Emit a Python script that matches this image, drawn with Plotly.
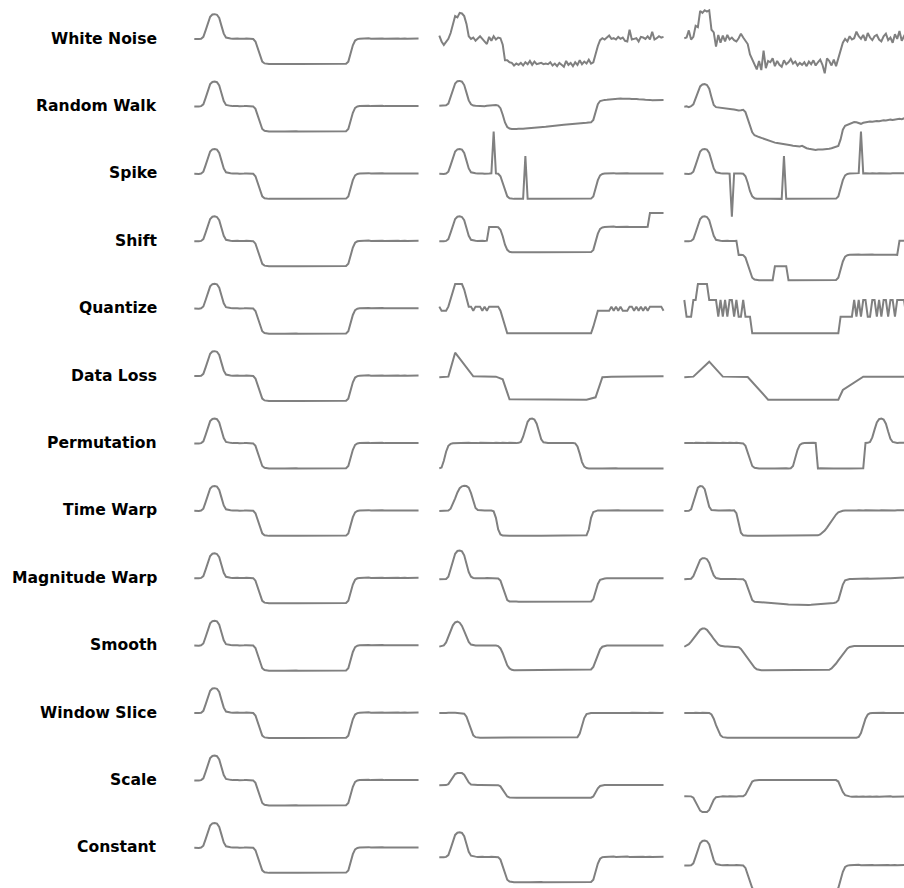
import plotly.graph_objects as go

# ---------------------------------------------------------------- data
ROW_LABELS = ["White Noise", "Random Walk", "Spike", "Shift", "Quantize", "Data Loss",
              "Permutation", "Time Warp", "Magnitude Warp", "Smooth", "Window Slice",
              "Scale", "Constant"]

# original series (z-normalised), shown in the first column of every row
BASE = [0.74, 0.72, 0.73, 0.76, 0.90, 1.40, 2.00, 2.45, 2.62, 2.65,
        2.60, 2.35, 1.75, 1.15, 0.85, 0.79, 0.78, 0.76, 0.78, 0.77,
        0.75, 0.78, 0.76, 0.77, 0.75, 0.77, 0.74, 0.55, 0.05, -0.60,
        -1.00, -1.14, -1.18, -1.19, -1.19, -1.18, -1.19, -1.19, -1.18, -1.19,
        -1.19, -1.18, -1.19, -1.19, -1.18, -1.18, -1.19, -1.19, -1.18, -1.19,
        -1.19, -1.18, -1.18, -1.19, -1.18, -1.18, -1.19, -1.18, -1.18, -1.19,
        -1.18, -1.18, -1.19, -1.19, -1.18, -1.19, -1.18, -1.17, -1.00, -0.40,
        0.25, 0.62, 0.73, 0.76, 0.78, 0.76, 0.77, 0.79, 0.76, 0.77,
        0.78, 0.76, 0.77, 0.78, 0.76, 0.77, 0.78, 0.77, 0.76, 0.78,
        0.77, 0.76, 0.78, 0.77, 0.76, 0.77, 0.78, 0.76, 0.77, 0.77]

WHITE_NOISE_A = [0.99, 0.55, 0.28, 0.55, 0.75, 1.20, 1.95, 2.50, 2.40, 2.75,
                 2.70, 2.50, 1.90, 0.95, 0.75, 0.85, 0.60, 0.80, 0.95, 0.75,
                 0.55, 0.35, 0.90, 0.60, 0.95, 0.70, 0.85, 0.80, 0.30, -0.90,
                 -0.90, -1.05, -1.10, -1.30, -1.15, -1.25, -1.10, -1.30, -1.05, -1.20,
                 -0.95, -1.25, -1.00, -1.20, -1.15, -1.10, -1.20, -1.15, -1.20, -1.05,
                 -1.30, -1.15, -1.35, -1.10, -1.25, -1.40, -0.95, -1.25, -1.10, -1.35,
                 -1.05, -1.25, -0.90, -1.20, -1.00, -1.15, -0.85, -1.15, -1.05, -0.40,
                 0.20, 0.65, 0.80, 0.70, 0.85, 1.00, 0.75, 0.80, 0.70, 0.90,
                 0.75, 0.85, 0.60, 0.55, 1.45, 0.70, 0.75, 0.80, 0.55, 0.90,
                 0.85, 0.75, 0.95, 0.70, 1.30, 0.70, 0.80, 0.95, 0.85, 0.90]
WHITE_NOISE_B = [0.80, 0.85, 1.40, 0.70, 0.90, 1.75, 1.65, 2.90, 2.75, 2.95,
                 2.85, 2.95, 1.45, 1.25, 0.15, 1.05, 0.45, 1.00, 0.55, 1.05,
                 0.70, 0.85, 0.65, 0.55, 0.80, 1.15, 0.85, 0.55, 0.35, -0.45,
                 -0.85, -1.15, -1.60, -0.95, -1.65, -0.15, -1.50, -0.95, -1.05, -0.75,
                 -1.35, -0.95, -1.25, -1.40, -0.90, -1.20, -1.05, -0.80, -1.15, -1.00,
                 -1.30, -1.10, -1.25, -1.05, -1.35, -1.00, -1.20, -0.90, -1.30, -1.05,
                 -0.85, -1.25, -1.90, -0.75, -0.95, -1.30, -0.85, -1.35, -0.75, -0.05,
                 0.45, 0.75, 0.55, 0.95, 0.70, 0.80, 1.30, 0.95, 0.75, 1.05,
                 0.60, 1.20, 0.85, 0.65, 0.95, 1.05, 0.70, 0.55, 0.95, 1.15,
                 0.65, 0.85, 0.45, 1.10, 0.75, 1.35, 0.60, 0.95, 0.70, 1.10]

RANDOM_WALK_A = [0.79, 0.80, 0.78, 0.82, 0.95, 1.45, 2.05, 2.50, 2.68, 2.70,
                 2.64, 2.38, 1.80, 1.20, 0.90, 0.80, 0.78, 0.77, 0.74, 0.76,
                 0.75, 0.78, 0.80, 0.82, 0.84, 0.85, 0.80, 0.60, 0.10, -0.50,
                 -0.85, -0.96, -1.00, -1.02, -1.00, -0.99, -1.01, -0.98, -0.96, -0.95,
                 -0.93, -0.94, -0.90, -0.89, -0.87, -0.86, -0.84, -0.83, -0.80, -0.79,
                 -0.76, -0.74, -0.73, -0.70, -0.69, -0.67, -0.66, -0.64, -0.63, -0.60,
                 -0.59, -0.57, -0.56, -0.55, -0.53, -0.52, -0.50, -0.49, -0.30, 0.30,
                 0.90, 1.15, 1.22, 1.24, 1.25, 1.27, 1.30, 1.32, 1.36, 1.34,
                 1.35, 1.33, 1.34, 1.31, 1.33, 1.30, 1.32, 1.31, 1.28, 1.30,
                 1.27, 1.25, 1.26, 1.24, 1.22, 1.23, 1.24, 1.22, 1.23, 1.23]
RANDOM_WALK_B = [0.72, 0.74, 0.68, 0.75, 0.90, 1.35, 1.90, 2.28, 2.42, 2.45,
                 2.38, 2.10, 1.45, 0.85, 0.68, 0.65, 0.64, 0.62, 0.60, 0.58,
                 0.55, 0.52, 0.50, 0.46, 0.43, 0.44, 0.48, 0.30, -0.20, -0.80,
                 -1.25, -1.48, -1.58, -1.62, -1.68, -1.75, -1.80, -1.86, -1.92, -1.98,
                 -2.05, -2.08, -2.10, -2.14, -2.16, -2.20, -2.22, -2.25, -2.28, -2.30,
                 -2.32, -2.34, -2.30, -2.40, -2.48, -2.52, -2.56, -2.60, -2.62, -2.58,
                 -2.60, -2.57, -2.55, -2.56, -2.52, -2.48, -2.42, -2.38, -2.30, -1.80,
                 -1.05, -0.75, -0.68, -0.62, -0.55, -0.46, -0.48, -0.55, -0.60, -0.52,
                 -0.48, -0.45, -0.42, -0.44, -0.40, -0.38, -0.40, -0.36, -0.33, -0.35,
                 -0.30, -0.28, -0.31, -0.27, -0.25, -0.22, -0.24, -0.18, -0.20, -0.17]

SPIKE_A = [0.74, 0.72, 0.73, 0.76, 0.90, 1.40, 2.00, 2.45, 2.62, 2.65,
           2.60, 2.35, 1.75, 1.15, 0.85, 0.79, 0.78, 0.76, 0.78, 0.77,
           0.75, 0.78, 0.76, 0.77, 3.98, 0.77, 0.74, 0.55, 0.05, -0.60,
           -1.00, -1.14, -1.18, -1.19, -1.19, -1.18, -1.19, -1.19, 2.10, -1.19,
           -1.19, -1.18, -1.19, -1.19, -1.18, -1.18, -1.19, -1.19, -1.18, -1.19,
           -1.19, -1.18, -1.18, -1.19, -1.18, -1.18, -1.19, -1.18, -1.18, -1.19,
           -1.18, -1.18, -1.19, -1.19, -1.18, -1.19, -1.18, -1.17, -1.00, -0.40,
           0.25, 0.62, 0.73, 0.76, 0.78, 0.76, 0.77, 0.79, 0.76, 0.77,
           0.78, 0.76, 0.77, 0.78, 0.76, 0.77, 0.78, 0.77, 0.76, 0.78,
           0.77, 0.76, 0.78, 0.77, 0.76, 0.77, 0.78, 0.76, 0.77, 0.77]
SPIKE_B = [0.74, 0.72, 0.73, 0.76, 0.90, 1.40, 2.00, 2.45, 2.62, 2.65,
           2.60, 2.35, 1.75, 1.15, 0.85, 0.79, 0.78, 0.76, 0.78, 0.77,
           0.75, -2.56, 0.76, 0.77, 0.75, 0.77, 0.74, 0.55, 0.05, -0.60,
           -1.00, -1.14, -1.18, -1.19, -1.19, -1.18, -1.19, -1.19, -1.18, -1.19,
           -1.19, -1.18, -1.19, -1.19, 2.10, -1.18, -1.19, -1.19, -1.18, -1.19,
           -1.19, -1.18, -1.18, -1.19, -1.18, -1.18, -1.19, -1.18, -1.18, -1.19,
           -1.18, -1.18, -1.19, -1.19, -1.18, -1.19, -1.18, -1.17, -1.00, -0.40,
           0.25, 0.62, 0.73, 0.76, 0.78, 0.76, 0.77, 0.79, 3.98, 0.77,
           0.78, 0.76, 0.77, 0.78, 0.76, 0.77, 0.78, 0.77, 0.76, 0.78,
           0.77, 0.76, 0.78, 0.77, 0.76, 0.77, 0.78, 0.76, 0.77, 0.77]

SHIFT_A = [0.74, 0.72, 0.73, 0.76, 0.90, 1.40, 2.00, 2.45, 2.62, 2.65,
           2.60, 2.35, 1.75, 1.15, 0.85, 0.79, 0.78, 0.76, 0.78, 0.77,
           0.75, 0.78, 1.83, 1.84, 1.82, 1.84, 1.81, 1.62, 1.12, 0.47,
           0.07, -0.07, -0.11, -0.12, -0.12, -0.11, -0.12, -0.12, -0.11, -0.12,
           -0.12, -0.11, -0.12, -0.12, -0.11, -0.11, -0.12, -0.12, -0.11, -0.12,
           -0.12, -0.11, -0.11, -0.12, -0.11, -0.11, -0.12, -0.11, -0.11, -0.12,
           -0.11, -0.11, -0.12, -0.12, -0.11, -0.12, -0.11, -0.10, 0.07, 0.67,
           1.32, 1.69, 1.80, 1.83, 1.85, 1.83, 1.84, 1.86, 1.83, 1.84,
           1.85, 1.83, 1.84, 1.85, 1.83, 1.84, 1.85, 1.84, 1.83, 1.85,
           1.84, 1.83, 1.85, 2.90, 2.89, 2.90, 2.91, 2.89, 2.90, 2.90]
SHIFT_B = [0.74, 0.72, 0.73, 0.76, 0.90, 1.40, 2.00, 2.45, 2.62, 2.65,
           2.60, 2.35, 1.75, 1.15, 0.85, 0.79, 0.78, 0.76, 0.78, 0.77,
           0.75, 0.78, 0.76, 0.77, -0.32, -0.30, -0.33, -0.52, -1.02, -1.67,
           -2.07, -2.21, -2.25, -2.26, -2.26, -2.25, -2.26, -2.26, -2.25, -2.26,
           -1.19, -1.18, -1.19, -1.19, -1.18, -1.18, -2.26, -2.26, -2.25, -2.26,
           -2.26, -2.25, -2.25, -2.26, -2.25, -2.25, -2.26, -2.25, -2.25, -2.26,
           -2.25, -2.25, -2.26, -2.26, -2.25, -2.26, -2.25, -2.24, -2.07, -1.47,
           -0.82, -0.45, -0.34, -0.31, -0.29, -0.31, -0.30, -0.28, -0.31, -0.30,
           -0.29, -0.31, -0.30, -0.29, -0.31, -0.30, -0.29, -0.30, -0.31, -0.29,
           -0.30, -0.31, -0.29, -0.30, -0.31, 0.77, 0.78, 0.76, 0.77, 0.77]

QUANTIZE_A = [0.89, 0.58, 0.58, 0.58, 0.89, 1.50, 2.20, 2.63, 2.63, 2.63,
              2.63, 2.20, 1.50, 0.89, 0.89, 0.58, 0.89, 0.89, 0.89, 0.58,
              0.89, 0.58, 0.89, 0.89, 0.89, 0.89, 0.89, 0.58, -0.05, -0.65,
              -1.16, -1.16, -1.16, -1.16, -1.16, -1.16, -1.16, -1.16, -1.16, -1.16,
              -1.16, -1.16, -1.16, -1.16, -1.16, -1.16, -1.16, -1.16, -1.16, -1.16,
              -1.16, -1.16, -1.16, -1.16, -1.16, -1.16, -1.16, -1.16, -1.16, -1.16,
              -1.16, -1.16, -1.16, -1.16, -1.16, -1.16, -1.16, -1.16, -0.65, 0.00,
              0.58, 0.58, 0.58, 0.58, 0.58, 0.58, 0.89, 0.58, 0.89, 0.58,
              0.89, 0.58, 0.58, 0.58, 0.89, 0.89, 0.58, 0.89, 0.58, 0.89,
              0.58, 0.89, 0.58, 0.89, 0.89, 0.89, 0.89, 0.89, 0.89, 0.58]
QUANTIZE_B = [1.40, 0.12, 0.12, 0.12, 1.40, 1.40, 2.63, 2.63, 2.63, 2.63,
              2.63, 1.40, 1.40, 1.40, 1.40, 0.12, 1.40, 0.12, 1.40, 0.12,
              1.40, 1.40, 0.12, 1.40, 0.12, 0.12, 1.40, 0.12, 0.12, 0.12,
              -1.16, -1.16, -1.16, -1.16, -1.16, -1.16, -1.16, -1.16, -1.16, -1.16,
              -1.16, -1.16, -1.16, -1.16, -1.16, -1.16, -1.16, -1.16, -1.16, -1.16,
              -1.16, -1.16, -1.16, -1.16, -1.16, -1.16, -1.16, -1.16, -1.16, -1.16,
              -1.16, -1.16, -1.16, -1.16, -1.16, -1.16, -1.16, -1.16, -1.16, 0.12,
              0.12, 0.12, 0.12, 0.12, 0.12, 1.40, 0.12, 1.40, 0.12, 1.40,
              1.40, 0.12, 0.12, 1.40, 1.40, 0.12, 1.40, 0.12, 1.40, 1.40,
              0.12, 1.40, 1.40, 0.12, 1.40, 1.40, 1.40, 1.40, 0.12, 1.40]

# data loss keeps only some samples; the kept samples are joined by straight segments
DATA_LOSS_A_T = [0, 4, 7, 15, 25, 28, 31, 65, 69, 72, 76, 84, 86, 99]
DATA_LOSS_A_V = [0.64, 0.69, 2.53, 0.72, 0.69, 0.48, -1.05, -1.08, -0.90, 0.64,
                 0.69, 0.74, 0.70, 0.72]
DATA_LOSS_B_T = [0, 4, 11, 17, 28, 37, 68, 70, 79, 99]
DATA_LOSS_B_V = [0.64, 0.69, 1.84, 0.69, 0.66, -1.08, -1.08, -0.34, 0.69, 0.69]

PERMUTATION_A = [-1.18, -1.12, -0.60, 0.10, 0.55, 0.70, 0.75, 0.76, 0.77, 0.76,
                 0.78, 0.77, 0.76, 0.78, 0.77, 0.75, 0.77, 0.76, 0.78, 0.77,
                 0.76, 0.78, 0.77, 0.76, 0.77, 0.78, 0.76, 0.77, 0.78, 0.76,
                 0.77, 0.78, 0.76, 0.77, 0.76, 0.78, 0.85, 1.25, 1.90, 2.40,
                 2.62, 2.65, 2.58, 2.25, 1.65, 1.05, 0.82, 0.78, 0.77, 0.76,
                 0.78, 0.77, 0.76, 0.78, 0.77, 0.76, 0.77, 0.78, 0.76, 0.77,
                 0.74, 0.50, -0.05, -0.70, -1.05, -1.16, -1.19, -1.18, -1.19, -1.19,
                 -1.18, -1.19, -1.19, -1.18, -1.19, -1.18, -1.19, -1.19, -1.18, -1.19,
                 -1.19, -1.18, -1.19, -1.19, -1.18, -1.19, -1.18, -1.19, -1.19, -1.18,
                 -1.19, -1.18, -1.19, -1.19, -1.18, -1.19, -1.19, -1.18, -1.19, -1.19]
PERMUTATION_B = [0.77, 0.76, 0.78, 0.77, 0.76, 0.78, 0.77, 0.75, 0.77, 0.76,
                 0.78, 0.77, 0.76, 0.78, 0.77, 0.76, 0.77, 0.78, 0.76, 0.77,
                 0.78, 0.76, 0.77, 0.78, 0.76, 0.77, 0.74, 0.55, 0.05, -0.60,
                 -1.00, -1.14, -1.18, -1.19, -1.19, -1.18, -1.19, -1.19, -1.18, -1.19,
                 -1.19, -1.18, -1.19, -1.19, -1.18, -1.18, -1.19, -1.17, -1.00, -0.40,
                 0.25, 0.62, 0.73, 0.76, 0.78, 0.76, 0.77, 0.79, 0.77, -1.19,
                 -1.18, -1.19, -1.19, -1.18, -1.19, -1.18, -1.19, -1.19, -1.18, -1.19,
                 -1.19, -1.18, -1.19, -1.19, -1.18, -1.19, -1.18, -1.19, -1.19, -1.18,
                 0.77, 0.78, 0.85, 1.20, 1.80, 2.35, 2.60, 2.65, 2.58, 2.25,
                 1.65, 1.10, 0.85, 0.79, 0.77, 0.78, 0.76, 0.77, 0.78, 0.77]

TIME_WARP_A = [0.72, 0.74, 0.73, 0.74, 0.76, 0.90, 1.25, 1.70, 2.15, 2.48,
               2.62, 2.66, 2.64, 2.52, 2.10, 1.45, 0.95, 0.80, 0.77, 0.78,
               0.76, 0.77, 0.78, 0.76, 0.70, 0.20, -0.70, -1.08, -1.17, -1.19,
               -1.18, -1.19, -1.19, -1.18, -1.19, -1.19, -1.18, -1.19, -1.19, -1.18,
               -1.19, -1.18, -1.19, -1.19, -1.18, -1.19, -1.19, -1.18, -1.19, -1.19,
               -1.18, -1.19, -1.19, -1.18, -1.19, -1.18, -1.19, -1.19, -1.18, -1.19,
               -1.19, -1.18, -1.19, -1.18, -1.19, -1.15, -0.70, 0.20, 0.65, 0.74,
               0.77, 0.76, 0.78, 0.77, 0.76, 0.77, 0.78, 0.76, 0.77, 0.78,
               0.76, 0.77, 0.78, 0.77, 0.76, 0.78, 0.77, 0.76, 0.77, 0.78,
               0.77, 0.76, 0.78, 0.77, 0.76, 0.77, 0.78, 0.77, 0.76, 0.77]
TIME_WARP_B = [0.72, 0.73, 0.74, 0.85, 1.40, 2.10, 2.52, 2.65, 2.62, 2.40,
               1.75, 1.05, 0.80, 0.77, 0.78, 0.76, 0.77, 0.78, 0.76, 0.77,
               0.78, 0.76, 0.77, 0.55, -0.30, -0.95, -1.15, -1.19, -1.18, -1.19,
               -1.19, -1.18, -1.19, -1.19, -1.18, -1.19, -1.19, -1.18, -1.19, -1.19,
               -1.18, -1.19, -1.19, -1.18, -1.19, -1.18, -1.19, -1.19, -1.18, -1.19,
               -1.19, -1.18, -1.19, -1.19, -1.18, -1.19, -1.18, -1.19, -1.19, -1.15,
               -1.08, -0.95, -0.78, -0.55, -0.30, -0.05, 0.22, 0.45, 0.62, 0.70,
               0.74, 0.77, 0.76, 0.78, 0.77, 0.76, 0.77, 0.78, 0.76, 0.77,
               0.78, 0.77, 0.76, 0.78, 0.77, 0.76, 0.77, 0.78, 0.77, 0.76,
               0.78, 0.77, 0.76, 0.77, 0.78, 0.77, 0.76, 0.77, 0.78, 0.77]

MAG_WARP_A = [0.65, 0.66, 0.65, 0.68, 0.85, 1.40, 2.10, 2.62, 2.83, 2.86,
              2.80, 2.50, 1.85, 1.20, 0.85, 0.76, 0.74, 0.73, 0.75, 0.74,
              0.73, 0.75, 0.74, 0.73, 0.74, 0.75, 0.72, 0.55, 0.05, -0.58,
              -0.95, -1.05, -1.07, -1.07, -1.06, -1.07, -1.07, -1.06, -1.07, -1.07,
              -1.07, -1.08, -1.07, -1.08, -1.08, -1.07, -1.08, -1.08, -1.08, -1.07,
              -1.08, -1.08, -1.07, -1.08, -1.08, -1.07, -1.07, -1.08, -1.07, -1.07,
              -1.07, -1.07, -1.08, -1.08, -1.08, -1.08, -1.07, -1.05, -0.88, -0.30,
              0.30, 0.62, 0.70, 0.72, 0.73, 0.72, 0.73, 0.74, 0.72, 0.73,
              0.74, 0.72, 0.73, 0.74, 0.73, 0.72, 0.74, 0.73, 0.72, 0.73,
              0.74, 0.73, 0.72, 0.74, 0.73, 0.72, 0.73, 0.74, 0.73, 0.73]
MAG_WARP_B = [0.65, 0.66, 0.66, 0.70, 0.90, 1.35, 1.85, 2.15, 2.27, 2.28,
              2.20, 1.92, 1.40, 0.95, 0.75, 0.69, 0.68, 0.67, 0.69, 0.68,
              0.67, 0.69, 0.68, 0.67, 0.68, 0.69, 0.66, 0.50, 0.00, -0.60,
              -0.95, -1.07, -1.08, -1.09, -1.10, -1.12, -1.13, -1.15, -1.16, -1.18,
              -1.19, -1.20, -1.22, -1.23, -1.25, -1.26, -1.28, -1.29, -1.30, -1.31,
              -1.32, -1.33, -1.33, -1.33, -1.32, -1.32, -1.31, -1.30, -1.30, -1.29,
              -1.28, -1.27, -1.26, -1.25, -1.23, -1.20, -1.17, -1.12, -0.95, -0.35,
              0.25, 0.58, 0.66, 0.68, 0.68, 0.69, 0.68, 0.69, 0.70, 0.69,
              0.70, 0.71, 0.70, 0.71, 0.72, 0.71, 0.72, 0.73, 0.72, 0.73,
              0.74, 0.73, 0.74, 0.75, 0.76, 0.77, 0.78, 0.79, 0.80, 0.81]

SMOOTH_A = [0.66, 0.68, 0.75, 0.98, 1.40, 1.90, 2.30, 2.52, 2.58, 2.50,
            2.25, 1.85, 1.40, 1.02, 0.82, 0.75, 0.74, 0.74, 0.75, 0.74,
            0.74, 0.75, 0.74, 0.74, 0.75, 0.74, 0.70, 0.52, 0.15, -0.35,
            -0.78, -1.02, -1.12, -1.15, -1.15, -1.15, -1.15, -1.15, -1.15, -1.15,
            -1.15, -1.15, -1.15, -1.15, -1.15, -1.15, -1.15, -1.15, -1.15, -1.15,
            -1.15, -1.15, -1.15, -1.15, -1.15, -1.15, -1.15, -1.15, -1.15, -1.15,
            -1.15, -1.15, -1.15, -1.15, -1.15, -1.15, -1.15, -1.10, -0.90, -0.45,
            0.08, 0.45, 0.65, 0.72, 0.74, 0.74, 0.74, 0.75, 0.74, 0.74,
            0.74, 0.75, 0.74, 0.74, 0.75, 0.74, 0.74, 0.74, 0.75, 0.74,
            0.74, 0.74, 0.75, 0.74, 0.74, 0.75, 0.74, 0.74, 0.74, 0.74]
SMOOTH_B = [0.65, 0.72, 0.85, 1.05, 1.28, 1.52, 1.75, 1.95, 2.05, 2.06,
            1.95, 1.75, 1.50, 1.25, 1.00, 0.82, 0.72, 0.68, 0.67, 0.67,
            0.67, 0.67, 0.67, 0.67, 0.62, 0.48, 0.25, 0.00, -0.25, -0.50,
            -0.74, -0.95, -1.08, -1.14, -1.15, -1.15, -1.15, -1.15, -1.15, -1.15,
            -1.15, -1.15, -1.15, -1.15, -1.15, -1.15, -1.15, -1.15, -1.15, -1.15,
            -1.15, -1.15, -1.15, -1.15, -1.15, -1.15, -1.15, -1.15, -1.15, -1.15,
            -1.15, -1.15, -1.15, -1.15, -1.12, -1.02, -0.85, -0.64, -0.40, -0.15,
            0.10, 0.33, 0.52, 0.63, 0.68, 0.70, 0.70, 0.70, 0.70, 0.70,
            0.70, 0.70, 0.70, 0.70, 0.70, 0.70, 0.70, 0.70, 0.70, 0.70,
            0.70, 0.70, 0.70, 0.70, 0.70, 0.70, 0.70, 0.70, 0.70, 0.70]

WINDOW_SLICE_A = [0.74, 0.73, 0.75, 0.74, 0.76, 0.74, 0.73, 0.75, 0.74, 0.73,
                  0.74, 0.68, 0.45, -0.05, -0.60, -0.98, -1.12, -1.16, -1.16, -1.16,
                  -1.16, -1.16, -1.16, -1.16, -1.16, -1.16, -1.16, -1.16, -1.16, -1.16,
                  -1.16, -1.16, -1.16, -1.16, -1.16, -1.16, -1.16, -1.16, -1.16, -1.16,
                  -1.16, -1.16, -1.16, -1.16, -1.16, -1.16, -1.16, -1.16, -1.16, -1.16,
                  -1.16, -1.16, -1.16, -1.16, -1.16, -1.16, -1.16, -1.16, -1.16, -1.16,
                  -1.16, -1.12, -0.85, -0.25, 0.35, 0.65, 0.72, 0.74, 0.74, 0.75,
                  0.74, 0.73, 0.75, 0.74, 0.74, 0.75, 0.73, 0.74, 0.75, 0.74,
                  0.74, 0.73, 0.75, 0.74, 0.74, 0.75, 0.74, 0.73, 0.74, 0.75,
                  0.74, 0.74, 0.73, 0.75, 0.74, 0.74, 0.75, 0.74, 0.74, 0.75]
WINDOW_SLICE_B = [0.74, 0.73, 0.75, 0.74, 0.74, 0.75, 0.73, 0.74, 0.75, 0.74,
                  0.73, 0.74, 0.62, 0.30, -0.20, -0.65, -0.98, -1.12, -1.16, -1.16,
                  -1.16, -1.16, -1.16, -1.16, -1.16, -1.16, -1.16, -1.16, -1.16, -1.16,
                  -1.16, -1.16, -1.16, -1.16, -1.16, -1.16, -1.16, -1.16, -1.16, -1.16,
                  -1.16, -1.16, -1.16, -1.16, -1.16, -1.16, -1.16, -1.16, -1.16, -1.16,
                  -1.16, -1.16, -1.16, -1.16, -1.16, -1.16, -1.16, -1.16, -1.16, -1.16,
                  -1.16, -1.16, -1.16, -1.16, -1.16, -1.16, -1.16, -1.16, -1.16, -1.16,
                  -1.16, -1.16, -1.16, -1.16, -1.16, -1.16, -1.16, -1.10, -0.80, -0.25,
                  0.30, 0.62, 0.72, 0.74, 0.75, 0.74, 0.73, 0.74, 0.75, 0.74,
                  0.74, 0.73, 0.75, 0.74, 0.74, 0.75, 0.74, 0.73, 0.74, 0.75]

SCALE_A = [0.37, 0.36, 0.37, 0.38, 0.45, 0.70, 1.00, 1.23, 1.31, 1.33,
           1.30, 1.18, 0.88, 0.58, 0.43, 0.40, 0.39, 0.38, 0.39, 0.39,
           0.38, 0.39, 0.38, 0.39, 0.38, 0.39, 0.37, 0.28, 0.03, -0.30,
           -0.50, -0.57, -0.59, -0.60, -0.60, -0.59, -0.60, -0.60, -0.59, -0.60,
           -0.60, -0.59, -0.60, -0.60, -0.59, -0.59, -0.60, -0.60, -0.59, -0.60,
           -0.60, -0.59, -0.59, -0.60, -0.59, -0.59, -0.60, -0.59, -0.59, -0.60,
           -0.59, -0.59, -0.60, -0.60, -0.59, -0.60, -0.59, -0.59, -0.50, -0.20,
           0.13, 0.31, 0.37, 0.38, 0.39, 0.38, 0.39, 0.40, 0.38, 0.39,
           0.39, 0.38, 0.39, 0.39, 0.38, 0.39, 0.39, 0.39, 0.38, 0.39,
           0.39, 0.38, 0.39, 0.39, 0.38, 0.39, 0.39, 0.38, 0.39, 0.39]
SCALE_B = [-0.48, -0.47, -0.47, -0.49, -0.59, -0.91, -1.30, -1.59, -1.70, -1.72,
           -1.69, -1.53, -1.14, -0.75, -0.55, -0.51, -0.51, -0.49, -0.51, -0.50,
           -0.49, -0.51, -0.49, -0.50, -0.49, -0.50, -0.48, -0.36, -0.03, 0.39,
           0.65, 0.74, 0.77, 0.77, 0.77, 0.77, 0.77, 0.77, 0.77, 0.77,
           0.77, 0.77, 0.77, 0.77, 0.77, 0.77, 0.77, 0.77, 0.77, 0.77,
           0.77, 0.77, 0.77, 0.77, 0.77, 0.77, 0.77, 0.77, 0.77, 0.77,
           0.77, 0.77, 0.77, 0.77, 0.77, 0.77, 0.77, 0.76, 0.65, 0.26,
           -0.16, -0.40, -0.47, -0.49, -0.51, -0.49, -0.50, -0.51, -0.49, -0.50,
           -0.51, -0.49, -0.50, -0.51, -0.49, -0.50, -0.51, -0.50, -0.49, -0.51,
           -0.50, -0.49, -0.51, -0.50, -0.49, -0.50, -0.51, -0.49, -0.50, -0.50]

CONSTANT_A = [0.02, 0.00, 0.01, 0.04, 0.18, 0.68, 1.28, 1.73, 1.90, 1.93,
              1.88, 1.63, 1.03, 0.43, 0.13, 0.07, 0.06, 0.04, 0.06, 0.05,
              0.03, 0.06, 0.04, 0.05, 0.03, 0.05, 0.02, -0.17, -0.67, -1.32,
              -1.72, -1.86, -1.90, -1.91, -1.91, -1.90, -1.91, -1.91, -1.90, -1.91,
              -1.91, -1.90, -1.91, -1.91, -1.90, -1.90, -1.91, -1.91, -1.90, -1.91,
              -1.91, -1.90, -1.90, -1.91, -1.90, -1.90, -1.91, -1.90, -1.90, -1.91,
              -1.90, -1.90, -1.91, -1.91, -1.90, -1.91, -1.90, -1.89, -1.72, -1.12,
              -0.47, -0.10, 0.01, 0.04, 0.06, 0.04, 0.05, 0.07, 0.04, 0.05,
              0.06, 0.04, 0.05, 0.06, 0.04, 0.05, 0.06, 0.05, 0.04, 0.06,
              0.05, 0.04, 0.06, 0.05, 0.04, 0.05, 0.06, 0.04, 0.05, 0.05]
CONSTANT_B = [-0.62, -0.64, -0.63, -0.60, -0.46, 0.04, 0.64, 1.09, 1.26, 1.29,
              1.24, 0.99, 0.39, -0.21, -0.51, -0.57, -0.58, -0.60, -0.58, -0.59,
              -0.61, -0.58, -0.60, -0.59, -0.61, -0.59, -0.62, -0.81, -1.31, -1.96,
              -2.36, -2.50, -2.54, -2.55, -2.55, -2.54, -2.55, -2.55, -2.54, -2.55,
              -2.55, -2.54, -2.55, -2.55, -2.54, -2.54, -2.55, -2.55, -2.54, -2.55,
              -2.55, -2.54, -2.54, -2.55, -2.54, -2.54, -2.55, -2.54, -2.54, -2.55,
              -2.54, -2.54, -2.55, -2.55, -2.54, -2.55, -2.54, -2.53, -2.36, -1.76,
              -1.11, -0.74, -0.63, -0.60, -0.58, -0.60, -0.59, -0.57, -0.60, -0.59,
              -0.58, -0.60, -0.59, -0.58, -0.60, -0.59, -0.58, -0.59, -0.60, -0.58,
              -0.59, -0.60, -0.58, -0.59, -0.60, -0.59, -0.58, -0.60, -0.59, -0.59]

T = list(range(len(BASE)))

# (time, values) per row and column
ROWS = [
    [(T, BASE), (T, WHITE_NOISE_A), (T, WHITE_NOISE_B)],
    [(T, BASE), (T, RANDOM_WALK_A), (T, RANDOM_WALK_B)],
    [(T, BASE), (T, SPIKE_A), (T, SPIKE_B)],
    [(T, BASE), (T, SHIFT_A), (T, SHIFT_B)],
    [(T, BASE), (T, QUANTIZE_A), (T, QUANTIZE_B)],
    [(T, BASE), (DATA_LOSS_A_T, DATA_LOSS_A_V), (DATA_LOSS_B_T, DATA_LOSS_B_V)],
    [(T, BASE), (T, PERMUTATION_A), (T, PERMUTATION_B)],
    [(T, BASE), (T, TIME_WARP_A), (T, TIME_WARP_B)],
    [(T, BASE), (T, MAG_WARP_A), (T, MAG_WARP_B)],
    [(T, BASE), (T, SMOOTH_A), (T, SMOOTH_B)],
    [(T, BASE), (T, WINDOW_SLICE_A), (T, WINDOW_SLICE_B)],
    [(T, BASE), (T, SCALE_A), (T, SCALE_B)],
    [(T, BASE), (T, CONSTANT_A), (T, CONSTANT_B)],
]
for row in ROWS:
    for t, v in row:
        assert len(t) == len(v)

# ---------------------------------------------------------------- layout
W, H = 904, 888
PX_PER_UNIT = 13.0          # vertical scale shared by all panels
ROW_ZERO_PX = 48.6          # pixel row of value 0 in the first row
ROW_STEP_PX = 67.4          # distance between rows
LABEL_TOP_PX = 38.5         # centre of the first row label
PX_PER_SAMPLE = 2.265
COL_LEFT_PX = [194.3, 439.3, 684.3]
PAD_PX = 3.0
LINE_COLOR = "#808080"

fig = go.Figure()
axis_names = ["x", "x2", "x3"]

for r, row in enumerate(ROWS):
    offset = -(ROW_ZERO_PX + ROW_STEP_PX * r) / PX_PER_UNIT
    for c, (t, v) in enumerate(row):
        fig.add_trace(go.Scatter(
            x=t, y=[val + offset for val in v],
            mode="lines", xaxis=axis_names[c], yaxis="y",
            line=dict(color=LINE_COLOR, width=2), hoverinfo="skip",
            showlegend=False))

n_last = len(BASE) - 1
layout_axes = {}
for c, name in enumerate(["xaxis", "xaxis2", "xaxis3"]):
    left = COL_LEFT_PX[c] - PAD_PX
    right = min(W, COL_LEFT_PX[c] + n_last * PX_PER_SAMPLE + PAD_PX)
    layout_axes[name] = dict(
        domain=[left / W, right / W],
        range=[-PAD_PX / PX_PER_SAMPLE, (right - COL_LEFT_PX[c]) / PX_PER_SAMPLE],
        visible=False, fixedrange=True, anchor="y")

annotations = []
for r, label in enumerate(ROW_LABELS):
    annotations.append(dict(
        text=f"<b>{label}</b>", x=159 / W, y=1 - (LABEL_TOP_PX + ROW_STEP_PX * r) / H,
        xref="paper", yref="paper", xanchor="right", yanchor="middle",
        showarrow=False, font=dict(family="DejaVu Sans", size=15.6, color="#000000")))

fig.update_layout(
    width=W, height=H, margin=dict(l=0, r=0, t=0, b=0),
    paper_bgcolor="white", plot_bgcolor="white",
    yaxis=dict(domain=[0, 1], range=[-H / PX_PER_UNIT, 0], visible=False, fixedrange=True),
    annotations=annotations, showlegend=False,
    **layout_axes)

fig.write_html("out.html")
